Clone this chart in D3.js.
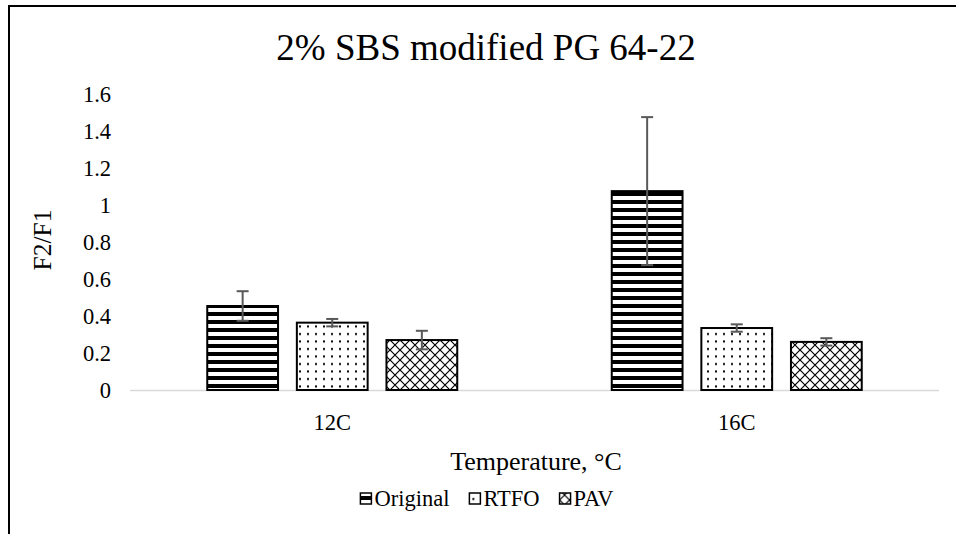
<!DOCTYPE html>
<html><head><meta charset="utf-8">
<script src="https://cdn.jsdelivr.net/npm/d3@7/dist/d3.min.js"></script>
<style>body{margin:0;background:#fff}svg{display:block}text{font-family:'Liberation Serif','Times New Roman','DejaVu Serif',serif}</style>
</head><body>
<script>
const categories = ["12C", "16C"];
const seriesNames = ["Original", "RTFO", "PAV"];
const original = [0.454, 1.075];
const originalErr = [0.08, 0.40];
const rtfo = [0.364, 0.335];
const rtfoErr = [0.02, 0.02];
const pav = [0.27, 0.26];
const pavErr = [0.05, 0.02];
const yTicks = [0, 0.2, 0.4, 0.6, 0.8, 1, 1.2, 1.4, 1.6];

const FONT = "'Liberation Serif', 'Times New Roman', 'DejaVu Serif', serif";
const W = 956, H = 534;
const svg = d3.select("body").append("svg").attr("width", W).attr("height", H).attr("font-family", FONT);
const defs = svg.append("defs");

const pH = defs.append("pattern").attr("id","pOrig").attr("patternUnits","userSpaceOnUse").attr("width",8).attr("height",8);
pH.append("rect").attr("width",8).attr("height",8).attr("fill","#fff");
pH.append("rect").attr("y",0).attr("width",8).attr("height",4).attr("fill","#000");

const pD = defs.append("pattern").attr("id","pRtfo").attr("patternUnits","userSpaceOnUse").attr("width",8).attr("height",7.5);
pD.append("rect").attr("width",8).attr("height",7.5).attr("fill","#fff");
pD.append("rect").attr("x",3).attr("y",3).attr("width",2).attr("height",2).attr("fill","#000");

const pX = defs.append("pattern").attr("id","pPav").attr("patternUnits","userSpaceOnUse").attr("width",10).attr("height",10);
pX.append("rect").attr("width",10).attr("height",10).attr("fill","#fff");
pX.append("path").attr("d","M0,0L10,10M10,0L0,10").attr("stroke","#000").attr("stroke-width",1.2);

const fills = ["url(#pOrig)","url(#pRtfo)","url(#pPav)"];

svg.append("path").attr("d","M9,540L9,6L960,6").attr("fill","none").attr("stroke","#000").attr("stroke-width",2);

const x0 = d3.scaleBand().domain(categories).range([130, 939]).paddingInner(0).paddingOuter(0);
const x1 = d3.scaleBand().domain(seriesNames).range([-125, 125]).paddingInner(0.21);
const y = d3.scaleLinear().domain([0, 1.6]).range([390, 94]);

function txt(sel){ return sel.attr("font-family", FONT).attr("fill","#000"); }

txt(svg.append("text")).attr("x", 486).attr("y", 60).attr("text-anchor","middle").attr("font-size",37).text("2% SBS modified PG 64-22");

txt(svg.append("g").selectAll("text").data(yTicks).join("text"))
  .attr("x", 111).attr("y", d => y(d)).attr("dy","0.35em").attr("text-anchor","end").attr("font-size",22.5)
  .text(d => d3.format("~g")(d));

svg.append("line").attr("x1",x0.range()[0]).attr("x2",x0.range()[1]).attr("y1",y(0)+0.5).attr("y2",y(0)+0.5).attr("stroke","#d9d9d9").attr("stroke-width",1.5);

const data = [original, rtfo, pav];
const errs = [originalErr, rtfoErr, pavErr];

const g = svg.append("g");
seriesNames.forEach((s, si) => {
  categories.forEach((c, ci) => {
    const cx = x0(c) + x0.bandwidth()/2;
    const bx = cx + x1(s);
    const v = data[si][ci];
    g.append("rect").attr("x", bx).attr("y", y(v)).attr("width", x1.bandwidth()).attr("height", y(0)-y(v))
      .attr("fill", fills[si]).attr("stroke","#000").attr("stroke-width",2);
  });
});
seriesNames.forEach((s, si) => {
  categories.forEach((c, ci) => {
    const cx = x0(c) + x0.bandwidth()/2;
    const mx = cx + x1(s) + x1.bandwidth()/2;
    const v = data[si][ci], e = errs[si][ci];
    const eg = g.append("g").attr("stroke","#595959").attr("stroke-width",2);
    eg.append("line").attr("x1",mx).attr("x2",mx).attr("y1",y(v+e)).attr("y2",y(v-e));
    eg.append("line").attr("x1",mx-6).attr("x2",mx+6).attr("y1",y(v+e)).attr("y2",y(v+e));
    eg.append("line").attr("x1",mx-6).attr("x2",mx+6).attr("y1",y(v-e)).attr("y2",y(v-e));
  });
});

txt(svg.append("g").selectAll("text").data(categories).join("text"))
  .attr("x", d => x0(d)+x0.bandwidth()/2).attr("y", 430).attr("text-anchor","middle").attr("font-size",22.5).text(d=>d);

txt(svg.append("text")).attr("x", 536).attr("y", 470).attr("text-anchor","middle").attr("font-size",26).text("Temperature, °C");
txt(svg.append("text")).attr("transform","translate(51,240) rotate(-90)").attr("text-anchor","middle").attr("font-size",25.5).text("F2/F1");

// legend, laid out from measured text widths
const lg = svg.append("g");
const iconW = 11, iconGap = 3, itemGap = 20, legendCenter = 487;
const items = seriesNames.map((s, i) => {
  const ig = lg.append("g");
  ig.append("rect").attr("x", 0).attr("y", 493).attr("width", iconW).attr("height", iconW)
    .attr("fill", fills[i]).attr("stroke","#000").attr("stroke-width",1.5);
  const t = txt(ig.append("text")).attr("x", iconW + iconGap).attr("y", 506).attr("font-size",22.5).text(s);
  return {g: ig, w: iconW + iconGap + t.node().getComputedTextLength()};
});
const total = d3.sum(items, d => d.w) + itemGap * (items.length - 1);
let cur = legendCenter - total / 2;
items.forEach(it => { it.g.attr("transform", `translate(${cur},0)`); cur += it.w + itemGap; });
</script>
</body></html>
